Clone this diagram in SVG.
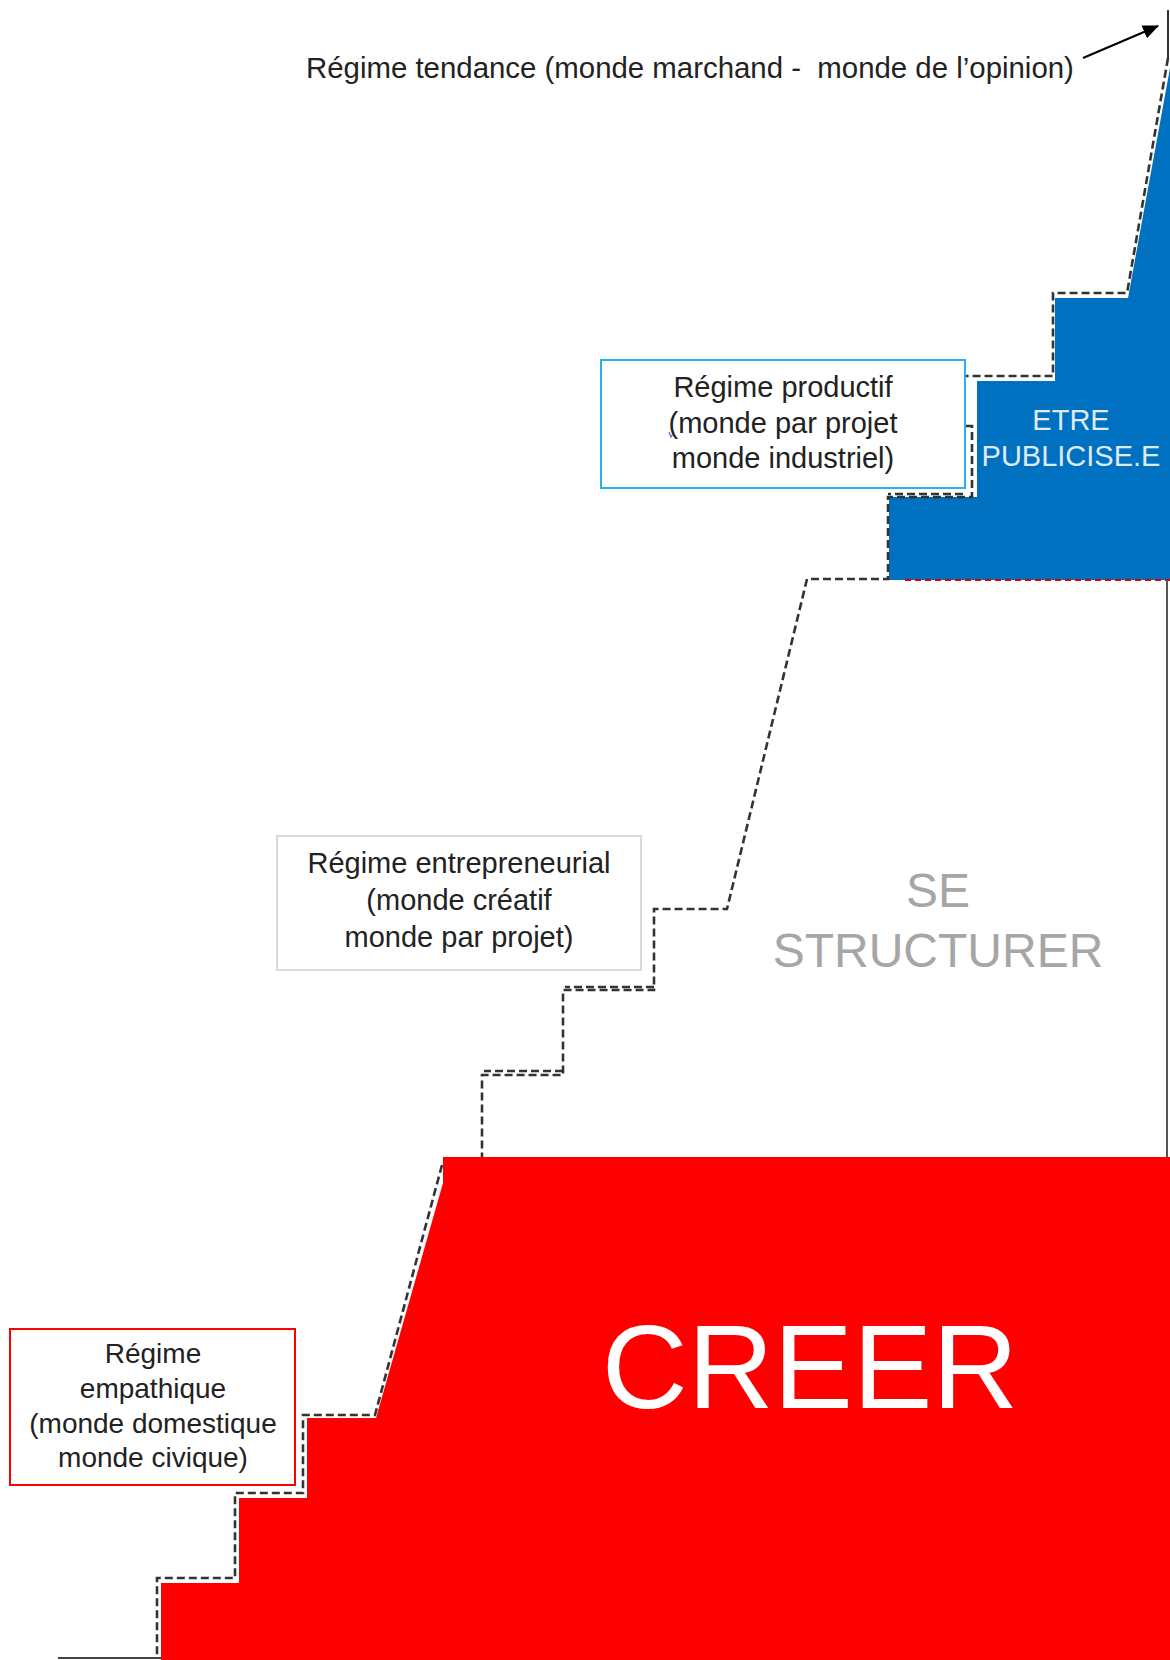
<svg xmlns="http://www.w3.org/2000/svg" width="1170" height="1660" viewBox="0 0 1170 1660">
<defs>
<style>
.t{font-family:"Liberation Sans",Arial,sans-serif;fill:#222222;font-size:29px;text-anchor:middle}
.dash{fill:none;stroke:#333333;stroke-width:2.6;stroke-dasharray:8 4}
.box{fill:#ffffff;stroke-width:2}
</style>
<marker id="ah" markerWidth="16" markerHeight="14" refX="15" refY="7" orient="auto" markerUnits="userSpaceOnUse" viewBox="0 0 16 14">
<path d="M0,0 L16,7 L0,14 z" fill="#000"/>
</marker>
</defs>
<rect width="1170" height="1660" fill="#ffffff"/>

<g id="etre-publicise">
<polygon points="1170,68 1128,298 1055,298 1055,381 977,381 977,497 889,497 889,580 1170,580" fill="#0070C0"/>
<text x="1071" y="430" class="t" style="fill:#DEEAF6">ETRE</text>
<text x="1071" y="466" class="t" style="fill:#DEEAF6">PUBLICISE.E</text>
</g>

<g id="creer">
<polygon points="443,1157 1170,1157 1170,1660 161,1660 161,1583 239,1583 239,1498 307,1498 307,1418 376,1418 443,1183" fill="#FF0000"/>
<text x="810" y="1408" style="font-family:'Liberation Sans',Arial,sans-serif;font-size:119px;fill:#ffffff;text-anchor:middle">CREER</text>
</g>

<g id="se-structurer">
<text x="938" y="907" style="font-family:'Liberation Sans',Arial,sans-serif;font-size:48px;fill:#A6A6A6;text-anchor:middle">SE</text>
<text x="938" y="967" style="font-family:'Liberation Sans',Arial,sans-serif;font-size:48px;fill:#A6A6A6;text-anchor:middle">STRUCTURER</text>
</g>

<g id="connectors">
<path class="dash" d="M1168,58 L1127,293 L1053,293 L1053,376 L966,376"/>
<path class="dash" d="M966,426 L972,426 L972,497 L888,497 L888,579 L807,579 L727,909 L654,909 L654,990 L563,990 L563,1075 L482,1075 L482,1157"/>
<path class="dash" d="M963,494 L888,494"/>
<path class="dash" d="M654,987 L565,987"/>
<path class="dash" d="M563,1071 L484,1071"/>
<path class="dash" d="M442,1165 L375,1415 L303,1415 L303,1493 L235,1493 L235,1578 L157,1578 L157,1658"/>
<path d="M905,580 L1170,580" fill="none" stroke="#E00000" stroke-width="2" stroke-dasharray="6 4"/>
<path d="M1168,10 L1168,58" fill="none" stroke="#333" stroke-width="2"/>
<path d="M1167,580 L1167,1157" fill="none" stroke="#555" stroke-width="2"/>
<path d="M58,1658 L161,1658" fill="none" stroke="#444" stroke-width="2"/>
<path d="M1083,58 L1158,26" fill="none" stroke="#000" stroke-width="2.2" marker-end="url(#ah)"/>
</g>

<g id="regime-tendance">
<text x="306" y="78" class="t" style="text-anchor:start;white-space:pre;font-size:29.4px" xml:space="preserve">Régime tendance (monde marchand -  monde de l’opinion)</text>
</g>

<g id="regime-productif">
<rect x="601" y="360" width="364" height="128" class="box" stroke="#29B3EE"/>
<text x="783" y="397" class="t">Régime productif</text>
<text x="783" y="433" class="t">(monde par projet</text>
<text x="783" y="468" class="t">monde industriel)</text>
<path d="M669,432 l2,5 l2,-3" fill="none" stroke="#4472C4" stroke-width="1.2"/>
</g>

<g id="regime-entrepreneurial">
<rect x="277" y="836" width="364" height="134" class="box" stroke="#D9D9D9"/>
<text x="459" y="873" class="t">Régime entrepreneurial</text>
<text x="459" y="910" class="t">(monde créatif</text>
<text x="459" y="947" class="t">monde par projet)</text>
</g>

<g id="regime-empathique">
<rect x="10" y="1329" width="285" height="156" class="box" stroke="#FF0000"/>
<text x="153" y="1363" class="t" style="font-size:28px">Régime</text>
<text x="153" y="1398" class="t" style="font-size:28px">empathique</text>
<text x="153" y="1433" class="t" style="font-size:28px">(monde domestique</text>
<text x="153" y="1467" class="t" style="font-size:28px">monde civique)</text>
</g>
</svg>
